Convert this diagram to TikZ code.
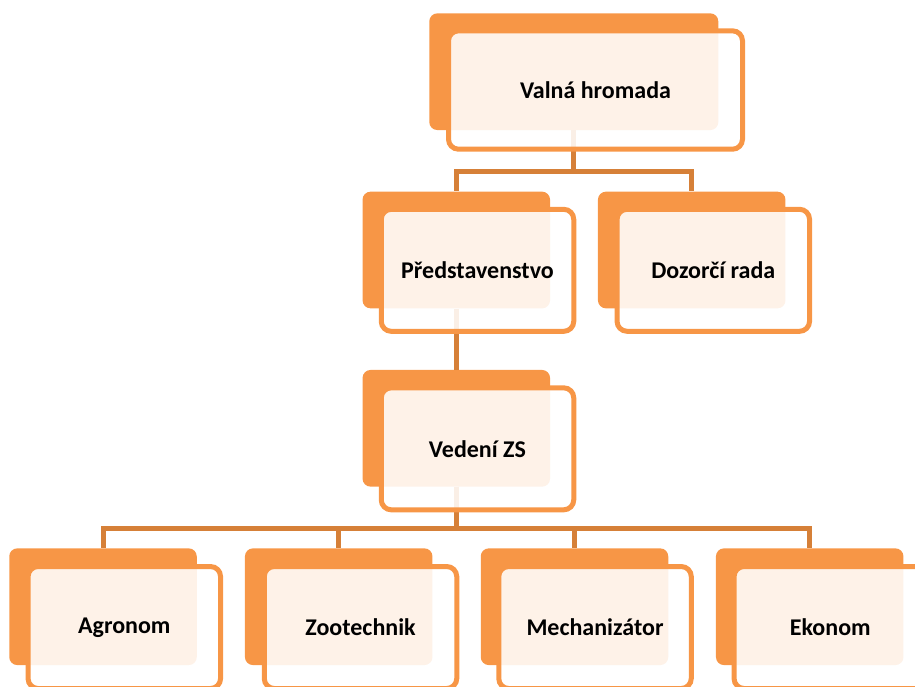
\documentclass[tikz,border=0pt]{standalone}
\usepackage{fontspec}
\setmainfont{Carlito}
\definecolor{boxorange}{RGB}{247,150,70}
\definecolor{connorange}{RGB}{214,128,56}
\begin{document}
\begin{tikzpicture}[x=1pt,y=-1pt,
  back/.style={fill=boxorange, rounded corners=8pt, inner sep=0pt,
    minimum width=187.5pt, minimum height=116.7pt},
  front/.style={draw=boxorange, line width=5pt, fill=white, fill opacity=0.88,
    text opacity=1, rounded corners=10pt, inner sep=0pt,
    minimum width=192.5pt, minimum height=122pt,
    font=\fontsize{24}{28}\selectfont\bfseries, text=black},
  conn/.style={draw=connorange, line width=5pt}]
\useasboundingbox (0,0) rectangle (915,686);
\clip (0,0) rectangle (915,686);
% back rectangles
\node[back, minimum width=289pt] (vhb) at (573.8,71.7) {};
\node[back] (prb) at (456.3,250) {};
\node[back] (dzb) at (691.7,250) {};
\node[back] (vdb) at (456.3,428.3) {};
\node[back] (agb) at (103,606.7) {};
\node[back] (zob) at (338.7,606.7) {};
\node[back] (meb) at (574.5,606.7) {};
\node[back] (ekb) at (809.7,606.7) {};
% connectors
\draw[conn] (vhb.south) -- ++(0,41) -| (prb.north);
\draw[conn] (vhb.south) -- ++(0,41) -| (dzb.north);
\draw[conn] (prb.south) -- (vdb.north);
\draw[conn] (vdb.south) -- ++(0,41.6) -| (agb.north);
\draw[conn] (vdb.south) -- ++(0,41.6) -| (zob.north);
\draw[conn] (vdb.south) -- ++(0,41.6) -| (meb.north);
\draw[conn] (vdb.south) -- ++(0,41.6) -| (ekb.north);
% front rectangles
\node[front, minimum width=294pt, minimum height=118.4pt] (vh) at (595.5,90) {Valná hromada};
\node[front] (pr) at (477.5,270.3) {Představenstvo};
\node[front] (dz) at (713.3,270.3) {Dozorčí rada};
\node[front] (vd) at (477.5,448.8) {Vedení ZS};
\node[front] (ag) at (124.3,627.5) {Agronom};
\node[front] (zo) at (360.5,627.5) {Zootechnik};
\node[front] (me) at (595,627.5) {Mechanizátor};
\node[front] (ek) at (830.3,627.5) {Ekonom};
\end{tikzpicture}
\end{document}
